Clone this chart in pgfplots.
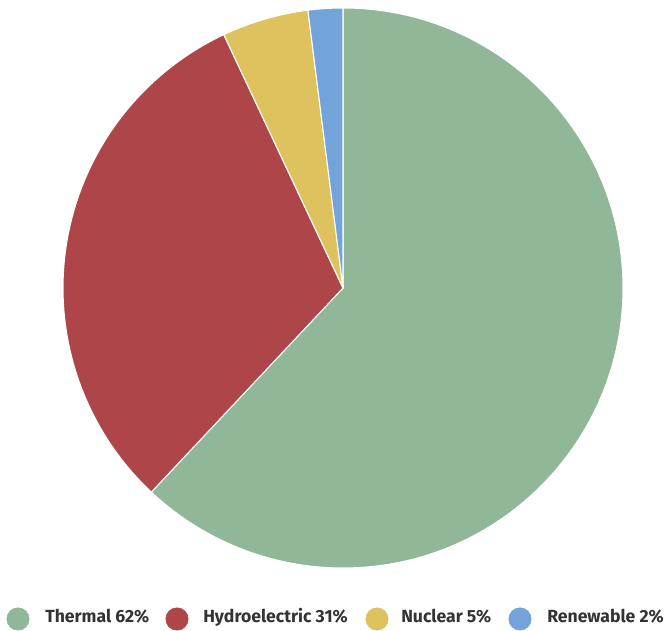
\documentclass[border=0pt]{standalone}
\usepackage{pgfplots}
\pgfplotsset{compat=1.18}
\usepackage{pgfplotstable}
\usepackage{fontspec}
\setmainfont{Fira Sans}

\definecolor{cThermal}{HTML}{8FB798}
\definecolor{cHydro}{HTML}{AD4549}
\definecolor{cNuclear}{HTML}{DDC25D}
\definecolor{cRenew}{HTML}{72A4DB}
\definecolor{legtext}{HTML}{333333}

% share of generation, in percent, clockwise from 12 o'clock
\pgfplotstableread{
name        share colour
Thermal     62    cThermal
Hydroelectric 31  cHydro
Nuclear     5     cNuclear
Renewable   2     cRenew
}\sharetable

\begin{document}
\begin{tikzpicture}
\begin{axis}[
  scale only axis, width=498.75pt, height=473.25pt,
  xmin=0, xmax=665, ymin=0, ymax=631,
  axis lines=none, clip=false,
]
  % keep the whole canvas in the bounding box
  \path (axis cs:0,0) rectangle (axis cs:665,631);

  % pie slices: centre (343,343), radius 280 units (= 210pt)
  \pgfplotstablegetrowsof{\sharetable}
  \pgfmathtruncatemacro{\nrows}{\pgfplotsretval-1}
  \def\startang{90}
  \pgfplotsforeachungrouped \i in {0,...,\nrows}{%
    \pgfplotstablegetelem{\i}{share}\of{\sharetable}\let\sh\pgfplotsretval
    \pgfplotstablegetelem{\i}{colour}\of{\sharetable}\let\col\pgfplotsretval
    \pgfmathsetmacro{\endang}{\startang-3.6*\sh}
    \edef\doslice{\noexpand\fill[fill=\col, draw=white, line width=0.8pt, line join=round]
      (axis cs:343,343) -- (axis cs:{343+280*cos(\startang)},{343+280*sin(\startang)})
      arc[start angle=\startang, end angle=\endang, radius=210pt] -- cycle;}%
    \doslice
    \global\let\startang\endang
  }

  % legend markers
  \addplot[only marks, mark=*, mark size=8.4pt, mark options={draw=cThermal, fill=cThermal}] coordinates {(18,12)};
  \addplot[only marks, mark=*, mark size=8.4pt, mark options={draw=cHydro, fill=cHydro}] coordinates {(177,12)};
  \addplot[only marks, mark=*, mark size=8.4pt, mark options={draw=cNuclear, fill=cNuclear}] coordinates {(377,12)};
  \addplot[only marks, mark=*, mark size=8.4pt, mark options={draw=cRenew, fill=cRenew}] coordinates {(520,12)};

  \begin{scope}[every node/.style={anchor=base west, inner sep=0pt, font=\bfseries\fontsize{13.2pt}{15pt}\selectfont, text=legtext}]
    \node at (axis cs:45,8) {Thermal 62\%};
    \node at (axis cs:203,8) {Hydroelectric 31\%};
    \node at (axis cs:401,8) {Nuclear 5\%};
    \node at (axis cs:547,8) {Renewable 2\%};
  \end{scope}
\end{axis}
\end{tikzpicture}
\end{document}
